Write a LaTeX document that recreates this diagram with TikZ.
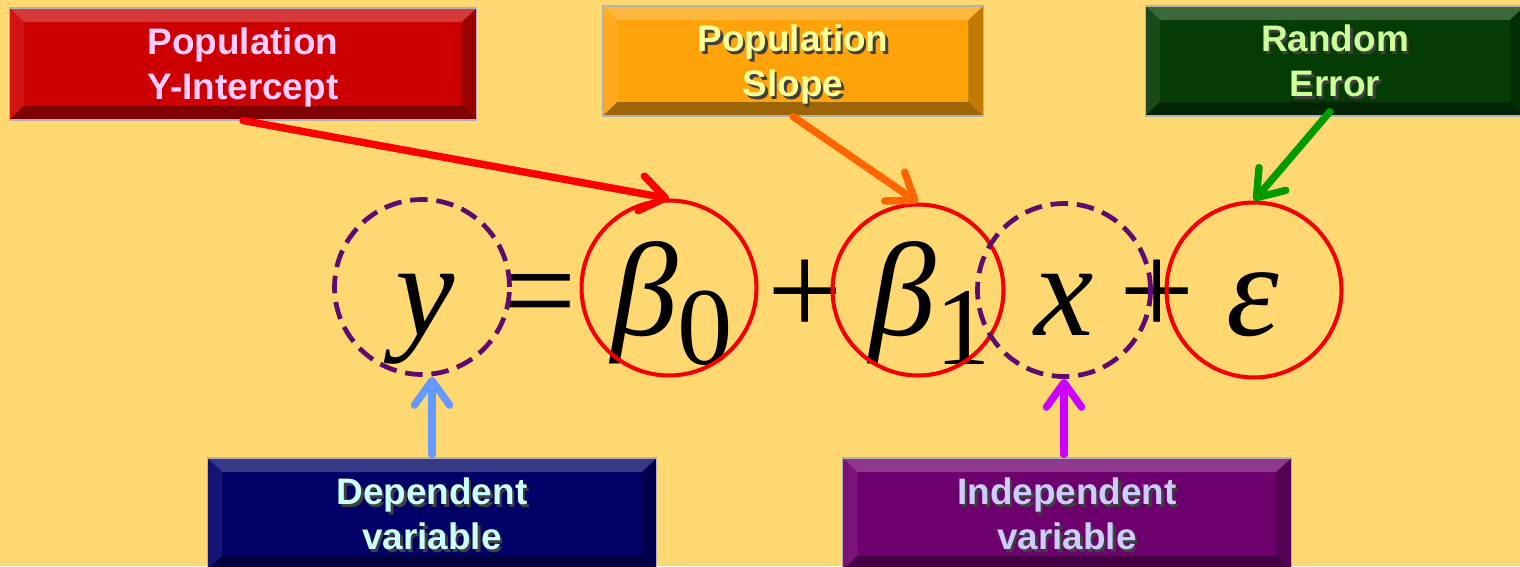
\documentclass[tikz,border=0pt]{standalone}
\usepackage{fontspec}
\usepackage{xcolor}
\usepackage{tikz}
\usetikzlibrary{arrows.meta, positioning}

\newfontfamily\lblfont{Liberation Sans}
\newfontfamily\eqfont{Liberation Serif}

\definecolor{bgyellow}{HTML}{FFD872}
\definecolor{boxred}{HTML}{CC0000}
\definecolor{boxorange}{HTML}{FFA30A}
\definecolor{boxgreen}{HTML}{043C04}
\definecolor{boxnavy}{HTML}{000066}
\definecolor{boxpurple}{HTML}{6E006E}
\definecolor{dashpurple}{HTML}{5E0A6E}
\definecolor{ringred}{HTML}{F50000}
\definecolor{txtpink}{HTML}{FFCCFF}
\definecolor{txtyellow}{HTML}{FFFF99}
\definecolor{txtgreen}{HTML}{CCFF99}
\definecolor{txtcyan}{HTML}{CCFFFF}
\definecolor{txtlilac}{HTML}{CCCCFF}
\definecolor{arrred}{HTML}{FF0000}
\definecolor{arrorange}{HTML}{FF6600}
\definecolor{arrgreen}{HTML}{009900}
\definecolor{arrblue}{HTML}{6699FF}
\definecolor{arrmagenta}{HTML}{CC00FF}

% text with a small drop shadow
\newcommand\shd[1]{\leavevmode\rlap{\kern1.4pt\raisebox{-1.4pt}{\color{black!75}#1}}#1}

\begin{document}
\begin{tikzpicture}[
			x=0.02cm, y=-0.02cm,
			btn/.style={
				rectangle, fill=#1, draw=gray!60, line width=0.6pt,
				align=center, inner sep=0pt, text depth=0pt,
				font=\lblfont\bfseries\fontsize{21}{25.6}\selectfont,
				path picture={
					\fill[#1!78!white] (path picture bounding box.north west) -- (path picture bounding box.north east)
						-- ([shift={(-0.3cm,-0.28cm)}]path picture bounding box.north east) -- ([shift={(0.3cm,-0.28cm)}]path picture bounding box.north west) -- cycle;
					\fill[#1!92!white] (path picture bounding box.north west) -- ([shift={(0.3cm,-0.28cm)}]path picture bounding box.north west)
						-- ([shift={(0.3cm,0.28cm)}]path picture bounding box.south west) -- (path picture bounding box.south west) -- cycle;
					\fill[#1!75!black] (path picture bounding box.north east) -- ([shift={(-0.3cm,-0.28cm)}]path picture bounding box.north east)
						-- ([shift={(-0.3cm,0.28cm)}]path picture bounding box.south east) -- (path picture bounding box.south east) -- cycle;
					\fill[#1!62!black] (path picture bounding box.south west) -- ([shift={(0.3cm,0.28cm)}]path picture bounding box.south west)
						-- ([shift={(-0.3cm,0.28cm)}]path picture bounding box.south east) -- (path picture bounding box.south east) -- cycle;
				}
			},
			sym/.style={anchor=base, inner sep=0pt, font=\eqfont\fontsize{76}{76}\selectfont},
			ring/.style={circle, draw=ringred, line width=2.3pt, minimum size=#1},
			dring/.style={circle, draw=dashpurple, line width=2.7pt, dash pattern=on 10pt off 5pt, minimum size=#1},
			arr/.style={
				draw=#1, line width=4.2pt, line cap=round,
				-{Straight Barb[length=14pt,width=20pt,round]}
			}
			]
			
			\useasboundingbox (0,0) rectangle (1520,566);
			\clip (0,0) rectangle (1520,566);
			\fill[bgyellow] (0,0) rectangle (1520,566);
			
			% the equation
			\node[sym] (sy) at (425,335) {\itshape y};
			\node[sym] (seq) at (539,335) {=};
			\node[sym] (sbzero) at (672,335) {\itshape β\raisebox{-17pt}{\upshape\fontsize{63}{63}\selectfont 0}};
			\node[sym] (splusa) at (805,335) {+};
			\node[sym] (sbone) at (930,335) {\itshape β\raisebox{-17pt}{\upshape\fontsize{63}{63}\selectfont 1}};
			\node[sym] (sx) at (1064,335) {\itshape x};
			\node[sym] (splusb) at (1157,335) {+};
			\node[sym] (seps) at (1253,335) {\itshape ε};
			
			% circles round the terms
			\node[dring=3.5cm] (cy) at (422,287) {};
			\node[ring=3.5cm] (cbzero) at (669,288) {};
			\node[ring=3.42cm] (cbone) at (918,290) {};
			\node[dring=3.46cm] (cx) at (1064,290) {};
			\node[ring=3.5cm] (ceps) at (1254,290) {};
			
			% labels
			\node[btn=boxred, text=txtpink, minimum width=9.36cm, minimum height=2.24cm] (lblint) at (243,64) {Population\\Y-Intercept};
			\node[btn=boxorange, text=txtyellow, minimum width=7.62cm, minimum height=2.2cm] (lblslope) at (793,61) {\shd{Population}\\\shd{Slope}};
			\node[btn=boxgreen, text=txtgreen, minimum width=7.6cm, minimum height=2.2cm] (lblerr) at (1335,61) {\shd{Random}\\\shd{Error}};
			\node[btn=boxnavy, text=txtcyan, minimum width=9cm, minimum height=2.24cm] (lbldep) at (432,514) {\shd{Dependent}\\\shd{variable}};
			\node[btn=boxpurple, text=txtlilac, minimum width=8.98cm, minimum height=2.24cm] (lblind) at (1067,514) {\shd{Independent}\\\shd{variable}};
			
			\draw[arr=arrred] (lblint.south) -- (cbzero.north);
			\draw[arr=arrorange] (lblslope.south) -- (cbone.north);
			\draw[arr=arrgreen] ([shift={(-0.1cm,0.1cm)}]lblerr.south) -- (ceps.north);
			\draw[arr=arrblue] ([yshift=0.06cm]lbldep.north) -- (lbldep.north |- cy.south);
			\draw[arr=arrmagenta] ([yshift=0.06cm]lblind.north -| cx.south) -- (cx.south);
		\end{tikzpicture}
\end{document}
